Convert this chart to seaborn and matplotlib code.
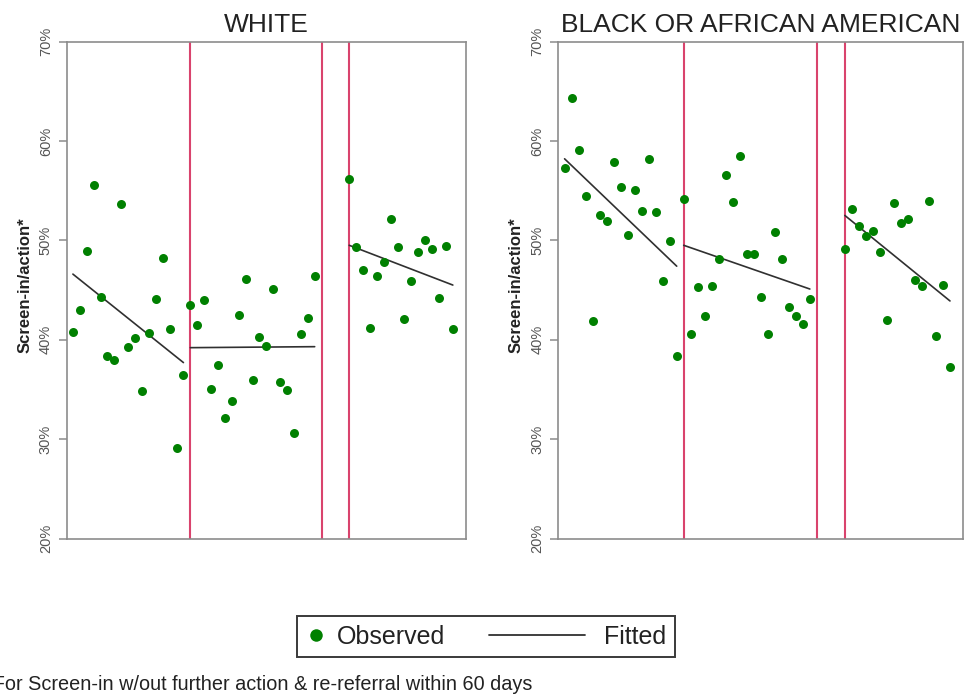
import matplotlib
matplotlib.use("Agg")
import matplotlib.pyplot as plt
from matplotlib.lines import Line2D
from matplotlib.legend_handler import HandlerLine2D
import pandas as pd
import seaborn as sns

# Month index of each observation (months 36-39 are not reported)
months = list(range(0, 36)) + list(range(40, 56))

white_rate = [40.8, 43.0, 48.9, 55.6, 44.3, 38.4, 38.0, 53.7, 39.3, 40.2,
              34.8, 40.7, 44.1, 48.2, 41.1, 29.1, 36.4, 43.5, 41.5, 44.0,
              35.0, 37.5, 32.1, 33.8, 42.5, 46.1, 35.9, 40.3, 39.4, 45.1,
              35.7, 34.9, 30.6, 40.6, 42.2, 46.4,
              56.2, 49.3, 47.0, 41.2, 46.4, 47.8, 52.1, 49.3, 42.1, 45.9,
              48.8, 50.0, 49.1, 44.2, 49.4, 41.1]
black_rate = [57.3, 64.3, 59.1, 54.5, 41.9, 52.5, 51.9, 57.9, 55.4, 50.5,
              55.1, 52.9, 58.2, 52.8, 45.9, 49.9, 38.4, 54.2, 40.6, 45.3,
              42.4, 45.4, 48.1, 56.6, 53.9, 58.5, 48.6, 48.6, 44.3, 40.6,
              50.8, 48.1, 43.3, 42.4, 41.6, 44.1,
              49.1, 53.2, 51.4, 50.4, 50.9, 48.8, 42.0, 53.8, 51.7, 52.1,
              46.0, 45.4, 54.0, 40.4, 45.5, 37.3]

# Interrupted time-series segments and their fitted trend end points
segment_start = [0, 17, 40]
segment_end = [16, 35, 55]
white_fit_start = [46.6, 39.2, 49.5]
white_fit_end = [37.7, 39.3, 45.5]
black_fit_start = [58.2, 49.5, 52.5]
black_fit_end = [47.4, 45.1, 43.9]

# Policy change points
cutoffs = [17, 36, 40]

y_ticks = [20, 30, 40, 50, 60, 70]
y_tick_labels = ["20%", "30%", "40%", "50%", "60%", "70%"]

panel_titles = ["WHITE", "BLACK OR AFRICAN AMERICAN"]
y_title = "Screen-in/action*"
footnote = "*For Screen-in w/out further action & re-referral within 60 days"

GREEN = "#008000"
CUTOFF = "#d9436d"
FIT = "#303030"
SPINE = "#8c8c8c"

sns.set_style("white")
plt.rcParams["font.family"] = ["Liberation Sans", "DejaVu Sans"]

fig = plt.figure(figsize=(9.75, 6.98), dpi=100)
ax_w = fig.add_axes([0.0684, 0.2285, 0.4095, 0.7120])
ax_b = fig.add_axes([0.5726, 0.2285, 0.4154, 0.7120])

panels = [
    (ax_w, white_rate, white_fit_start, white_fit_end),
    (ax_b, black_rate, black_fit_start, black_fit_end),
]

for (ax, rate, fit_a, fit_b), title in zip(panels, panel_titles):
    obs = pd.DataFrame({"month": months, "rate": rate})
    for c in cutoffs:
        ax.axvline(c, color=CUTOFF, lw=1.5, zorder=1)
    sns.scatterplot(data=obs, x="month", y="rate", ax=ax, color=GREEN,
                    s=42, linewidth=0, zorder=3, legend=False)
    for s0, s1, v0, v1 in zip(segment_start, segment_end, fit_a, fit_b):
        seg = pd.DataFrame({"month": [s0, s1], "rate": [v0, v1]})
        sns.lineplot(data=seg, x="month", y="rate", ax=ax, color=FIT,
                     lw=1.2, zorder=2, legend=False)

    ax.set_xlim(-0.9, 56.9)
    ax.set_ylim(20, 70)
    ax.set_xticks([])
    ax.set_yticks(y_ticks)
    ax.set_yticklabels(y_tick_labels, rotation=90, va="center",
                       color="#555555", fontsize=10.5)
    ax.tick_params(axis="y", which="major", left=True, length=6, width=1.1,
                   color=SPINE, pad=4, direction="out")
    ax.set_xlabel("")
    ax.set_ylabel(y_title, fontsize=12, fontweight="bold", color="#222222")
    width_px = ax.get_position().width * fig.get_figwidth() * fig.dpi
    ax.yaxis.set_label_coords(-34.5 / width_px, 0.51)
    for sp in ax.spines.values():
        sp.set_color(SPINE)
        sp.set_linewidth(1.2)
    ax.set_title(title, fontsize=19, pad=7, color="#222222")


class ExtendedLineHandler(HandlerLine2D):
    """Draws the legend line reaching back into the column gap."""

    def create_artists(self, legend, orig_handle, xdescent, ydescent,
                       width, height, fontsize, trans):
        y = height / 2.0 - ydescent
        line = Line2D([-xdescent - 3.36 * fontsize, -xdescent + 0.48 * fontsize],
                      [y, y])
        self.update_prop(line, orig_handle, legend)
        line.set_transform(trans)
        return [line]


obs_handle = Line2D([], [], marker="o", ls="", color=GREEN, ms=9,
                    markeredgewidth=0)
fit_handle = Line2D([], [], color=FIT, lw=1.3)
leg = fig.legend([obs_handle, fit_handle], ["Observed", "Fitted"],
                 loc="center", bbox_to_anchor=(0.4985, 0.088), ncol=2,
                 fontsize=18, frameon=True, fancybox=False, framealpha=1,
                 borderpad=0.35, handlelength=0.8, handletextpad=0.45,
                 columnspacing=5.12,
                 handler_map={fit_handle: ExtendedLineHandler()})
leg.get_frame().set_edgecolor("#3a3a3a")
leg.get_frame().set_linewidth(1.4)
for t in leg.get_texts():
    t.set_color("#222222")

fig.text(-0.0150, 0.0115, footnote, fontsize=14.3, color="#222222",
         ha="left", va="baseline")

fig.savefig("out.png", dpi=100)
